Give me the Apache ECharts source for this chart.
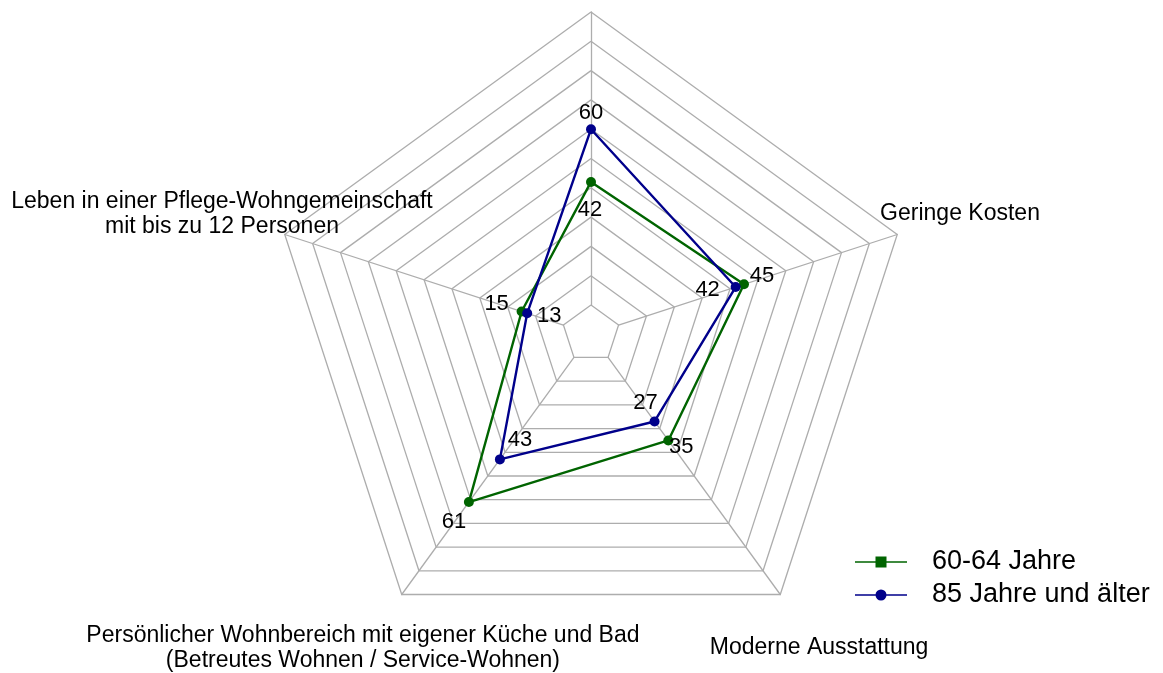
<!DOCTYPE html>
<html>
<head>
<meta charset="utf-8">
<script src="https://cdn.jsdelivr.net/npm/echarts@6/dist/echarts.min.js"></script>
<style>
  html, body { margin: 0; padding: 0; background: #ffffff; }
  #chart { width: 1163px; height: 673px; }
</style>
</head>
<body>
<div id="chart"></div>
<script>
// Radar axes, counter-clockwise from the top
const axisNames = [
  '',
  'Leben in einer Pflege-Wohngemeinschaft\nmit bis zu 12 Personen',
  'Persönlicher Wohnbereich mit eigener Küche und Bad\n(Betreutes Wohnen / Service-Wohnen)',
  'Moderne Ausstattung',
  'Geringe Kosten'
];
const seriesNames = ['60-64 Jahre', '85 Jahre und älter'];
const values6064 = [42, 15, 61, 35, 45];
const values85plus = [60, 13, 43, 27, 42];
const scaleMin = 0;
const scaleMax = 100;
const scaleSteps = 10;

// Styling
const FONT = '"Liberation Sans", Arial, sans-serif';
const COLORS = ['#006400', '#00008b'];
const GRID_COLOR = '#adadad';
const CENTER = [591, 334];
const RADIUS = [29, 322];
// value label offsets (dx, dy) per series, per axis
const labelOffsets = [
  [[-1, 28], [-25, -8], [-15, 20], [13, 7], [18, -8]],
  [[0, -16], [22, 3], [20, -19], [-9, -19], [-28, 3]]
];
const legendIcons = [
  'path://M0,4.8H52V6.2H0Z M20.5,0H31.5V11H20.5Z',
  'path://M0,4.8H52V6.2H0Z M20.5,5.5A5.5,5.5 0 1 1 31.5,5.5A5.5,5.5 0 1 1 20.5,5.5Z'
];

const nAxes = axisNames.length;
function axisIndexAt(x, y) {
  const ang = Math.atan2(CENTER[1] - y, x - CENTER[0]) * 180 / Math.PI;
  const rel = ((ang - 90) % 360 + 360) % 360;
  return Math.round(rel / (360 / nAxes)) % nAxes;
}

const chart = echarts.init(document.getElementById('chart'), null, { renderer: 'canvas' });
chart.setOption({
  animation: false,
  backgroundColor: '#ffffff',
  legend: {
    orient: 'vertical',
    left: 855,
    top: 547,
    padding: 0,
    itemGap: 3,
    itemWidth: 52,
    itemHeight: 11,
    data: seriesNames.map((n, i) => ({ name: n, icon: legendIcons[i] })),
    textStyle: { fontFamily: FONT, fontSize: 27, color: '#000', lineHeight: 30, padding: [0, 0, 0, 20] }
  },
  radar: {
    center: CENTER,
    radius: RADIUS,
    startAngle: 90,
    shape: 'polygon',
    splitNumber: scaleSteps,
    nameGap: 66,
    axisName: {
      fontFamily: FONT,
      fontSize: 23,
      color: '#000',
      lineHeight: 25,
      align: 'center',
      verticalAlign: 'middle'
    },
    indicator: axisNames.map(n => ({ name: n, min: scaleMin, max: scaleMax })),
    axisLine: { show: true, lineStyle: { color: GRID_COLOR, width: 1.3 } },
    splitLine: { show: true, lineStyle: { color: GRID_COLOR, width: 1.3 } },
    splitArea: { show: false },
    axisTick: { show: false },
    axisLabel: { show: false }
  },
  series: [{
    type: 'radar',
    symbol: 'circle',
    symbolSize: 10,
    lineStyle: { width: 2.4 },
    label: {
      show: true,
      fontFamily: FONT,
      fontSize: 22,
      color: '#000'
    },
    labelLayout: function (p) {
      const px = p.rect.x + p.rect.width / 2;
      const py = p.rect.y + p.rect.height / 2;
      const k = axisIndexAt(px, py);
      const off = labelOffsets[p.dataIndex][k];
      return { x: px + off[0], y: py + off[1], align: 'center', verticalAlign: 'middle' };
    },
    data: [
      { name: seriesNames[0], value: values6064, itemStyle: { color: COLORS[0] }, lineStyle: { color: COLORS[0], width: 2.4 } },
      { name: seriesNames[1], value: values85plus, itemStyle: { color: COLORS[1] }, lineStyle: { color: COLORS[1], width: 2.4 } }
    ]
  }]
});
</script>
</body>
</html>
